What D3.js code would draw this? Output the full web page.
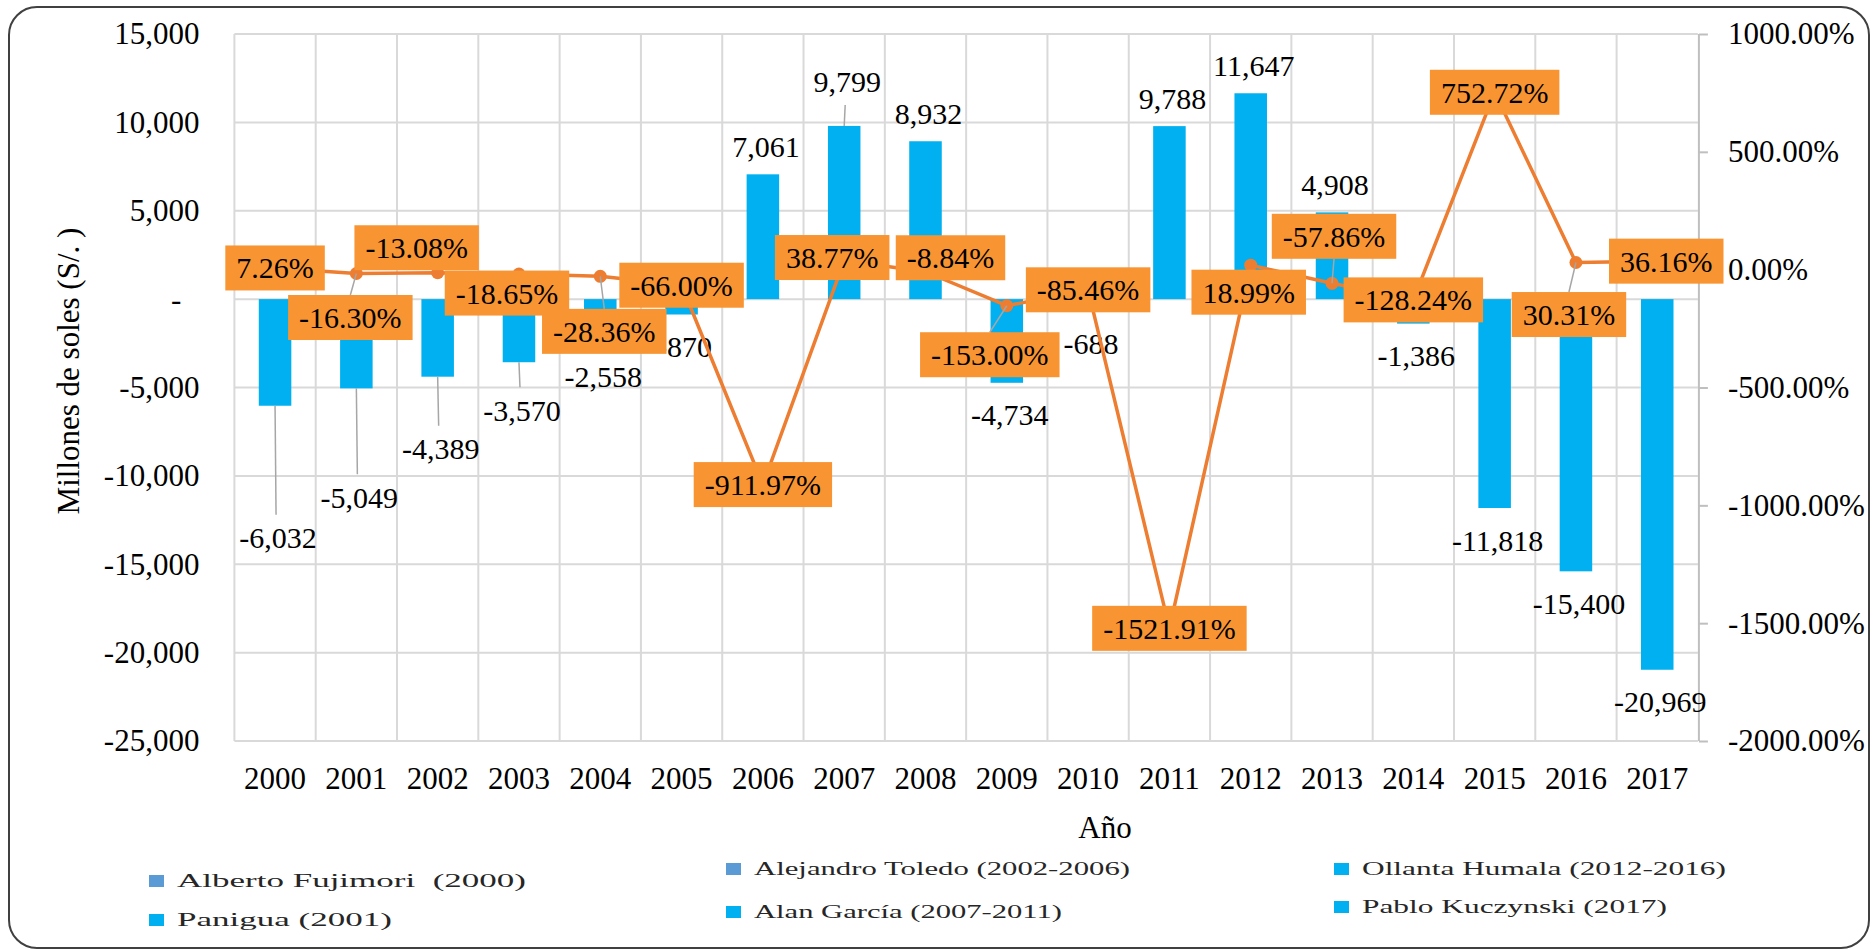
<!DOCTYPE html>
<html>
<head>
<meta charset="utf-8">
<script src="https://cdn.jsdelivr.net/npm/d3@7"></script>
<style>
  html, body { margin: 0; padding: 0; background: #fff; }
  svg { display: block; font-family: "Liberation Serif", "Times New Roman", serif; }
  .legend text { white-space: pre; }
</style>
</head>
<body>
<svg id="chart" width="1874" height="949"></svg>
<script>
// Balance (millones de soles) per year and its year-on-year change (%)
const years = ["2000","2001","2002","2003","2004","2005","2006","2007","2008",
               "2009","2010","2011","2012","2013","2014","2015","2016","2017"];
const balance = [-6032, -5049, -4389, -3570, -2558, -870, 7061, 9799, 8932,
                 -4734, -688, 9788, 11647, 4908, -1386, -11818, -15400, -20969];
const change = [7.26, -16.30, -13.08, -18.65, -28.36, -66.00, -911.97, 38.77, -8.84,
                -153.00, -85.46, -1521.91, 18.99, -57.86, -128.24, 752.72, 30.31, 36.16];
const leftTicks = [15000, 10000, 5000, 0, -5000, -10000, -15000, -20000, -25000];
const rightTicks = [1000, 500, 0, -500, -1000, -1500, -2000];
const legendNames = ["Alberto Fujimori  (2000)", "Panigua (2001)",
                     "Alejandro Toledo (2002-2006)", "Alan García (2007-2011)",
                     "Ollanta Humala (2012-2016)", "Pablo Kuczynski (2017)"];
const legendColors = ["#5B9BD5", "#00B0F0", "#5B9BD5", "#00B0F0", "#00B0F0", "#00B0F0"];

// Manual label placement nudges (pixels) so labels don't collide
const barLabelNudge = [100, 77, 40, 16, 0, 0, 0, -16, 0, 0, 0, 0, 0, 0, 0, 0, 0, 0];
const changeLabelNudge = [[0,0],[-6,44],[-21,-25],[-12,19],[4,55],[0,0],[0,0],[-12,-3],[25,-14],
                          [-17,49],[0,0],[0,0],[-2,27],[2,-47],[0,0],[0,0],[-7,52],[9,0]];

const loc = d3.formatLocale({decimal: ".", thousands: ",", grouping: [3], currency: ["", ""], minus: "-"});
const fmtInt = loc.format(",");
const fmtPct = v => loc.format(".2f")(v) + "%";

const svg = d3.select("#chart");
const plot = {left: 234.4, right: 1697.9, top: 34, bottom: 741};

const BAR = "#00B0F0", LINE = "#ED7D31", BOX = "#F89532", GRID = "#D9D9D9";

// Outer rounded frame
svg.append("rect").attr("x", 9).attr("y", 7).attr("width", 1860).attr("height", 941)
  .attr("rx", 28).attr("ry", 28).attr("fill", "#fff").attr("stroke", "#404040").attr("stroke-width", 2);

const x = d3.scaleBand().domain(years).range([plot.left, plot.right]).padding(0);
const y = d3.scaleLinear().domain([-25000, 15000]).range([plot.bottom, plot.top]);
const y2 = d3.scaleLinear().domain([-2000, 1000]).range([plot.bottom, plot.top]);
const cx = d => x(d) + x.bandwidth() / 2;

// Gridlines
const grid = svg.append("g");
grid.selectAll("line.h").data(leftTicks).join("line")
  .attr("x1", plot.left).attr("x2", plot.right)
  .attr("y1", d => y(d)).attr("y2", d => y(d))
  .attr("stroke", GRID).attr("stroke-width", 2);
grid.selectAll("line.v").data(years).join("line")
  .attr("x1", d => x(d)).attr("x2", d => x(d))
  .attr("y1", plot.top).attr("y2", plot.bottom)
  .attr("stroke", GRID).attr("stroke-width", 2);

// Left axis
const leftAxis = d3.axisLeft(y).tickValues(leftTicks).tickSize(0).tickPadding(35)
  .tickFormat(d => d === 0 ? "-" : fmtInt(d));
const gL = svg.append("g").attr("transform", `translate(${plot.left},0)`).call(leftAxis);
gL.select(".domain").remove();
gL.selectAll("text").attr("font-size", 31).attr("fill", "#000")
  .attr("font-family", "Liberation Serif")
  .attr("dx", d => d === 0 ? -18 : 0);

// Right axis
const rightAxis = d3.axisRight(y2).tickValues(rightTicks).tickSize(9).tickPadding(20)
  .tickFormat(fmtPct);
const gR = svg.append("g").attr("transform", `translate(${plot.right + 1},0)`).call(rightAxis);
gR.select(".domain").attr("stroke", "#BFBFBF").attr("stroke-width", 2)
  .attr("d", `M0,${plot.top}V${plot.bottom}`);
gR.selectAll(".tick line").attr("stroke", "#BFBFBF").attr("stroke-width", 2);
gR.selectAll("text").attr("font-size", 31).attr("fill", "#000").attr("font-family", "Liberation Serif");

// Bottom axis (years)
const bottomAxis = d3.axisBottom(x).tickSize(0).tickPadding(26);
const gB = svg.append("g").attr("transform", `translate(0,${plot.bottom})`).call(bottomAxis);
gB.select(".domain").remove();
gB.selectAll("text").attr("font-size", 31).attr("fill", "#000").attr("font-family", "Liberation Serif");

// Axis titles
svg.append("text").attr("transform", "translate(79,371) rotate(-90)")
  .attr("text-anchor", "middle").attr("font-size", 31).text("Millones de soles (S/. )");
svg.append("text").attr("x", 1105).attr("y", 838).attr("text-anchor", "middle")
  .attr("font-size", 31).text("Año");

// Bars
const bw = x.bandwidth() * 0.4;
const rows = years.map((yr, i) => ({yr, v: balance[i], p: change[i], i}));
svg.append("g").selectAll("rect").data(rows).join("rect")
  .attr("x", d => cx(d.yr) - bw / 2)
  .attr("y", d => Math.min(y(d.v), y(0)))
  .attr("width", bw)
  .attr("height", d => Math.abs(y(d.v) - y(0)))
  .attr("fill", BAR);

// Bar value labels (with leader lines where pushed away)
const barLab = svg.append("g");
rows.forEach(d => {
  const end = y(d.v);
  const dir = d.v < 0 ? 1 : -1;
  const base = d.v < 0 ? 32 : 28;
  const ly = end + dir * (base + Math.abs(barLabelNudge[d.i]));
  const lx = cx(d.yr) + 3;
  const edge = ly - dir * 23;
  if (Math.abs(edge - end) > 12) {
    barLab.append("line").attr("x1", cx(d.yr)).attr("x2", cx(d.yr) + 1)
      .attr("y1", end).attr("y2", edge)
      .attr("stroke", "#A6A6A6").attr("stroke-width", 1.5);
  }
  barLab.append("text").attr("x", lx).attr("y", ly).attr("dy", "0.35em")
    .attr("text-anchor", "middle").attr("font-size", 30).attr("fill", "#000")
    .text(fmtInt(d.v));
});

// Change line with markers
const line = d3.line().x(d => cx(d.yr)).y(d => y2(d.p));
svg.append("path").datum(rows).attr("d", line)
  .attr("fill", "none").attr("stroke", LINE).attr("stroke-width", 3.5)
  .attr("stroke-linejoin", "round");
svg.append("g").selectAll("circle").data(rows).join("circle")
  .attr("cx", d => cx(d.yr)).attr("cy", d => y2(d.p)).attr("r", 6.5).attr("fill", LINE);

// Change labels in orange boxes
const pctLab = svg.append("g");
const boxH = 45;
rows.forEach(d => {
  const px = cx(d.yr), py = y2(d.p);
  const [nx, ny] = changeLabelNudge[d.i];
  const bx = px + nx, by = py + ny;
  const g = pctLab.append("g");
  const leader = g.append("line");
  const rect = g.append("rect");
  const t = g.append("text").attr("x", bx).attr("y", by).attr("dy", "0.35em")
    .attr("text-anchor", "middle").attr("font-size", 30).attr("fill", "#000")
    .text(fmtPct(d.p));
  const tw = t.node().getComputedTextLength();
  const bW = tw + 22;
  rect.attr("x", bx - bW / 2).attr("y", by - boxH / 2).attr("width", bW).attr("height", boxH)
    .attr("fill", BOX);
  // leader line from the point to the nearest box edge
  const top = by - boxH / 2, bot = by + boxH / 2;
  let ey = null;
  if (py < top - 6) ey = top; else if (py > bot + 6) ey = bot;
  if (ey !== null) {
    leader.attr("x1", px).attr("y1", py).attr("x2", bx).attr("y2", ey)
      .attr("stroke", "#A6A6A6").attr("stroke-width", 1.5);
  } else {
    leader.remove();
  }
});

// Legend (horizontally stretched entries)
const legendPos = [[149, 887], [149, 926], [726, 875], [726, 918], [1334, 875], [1334, 913]];
const legendTextLen = [349, 215, 376, 308, 364, 305];
const lg = svg.append("g").attr("class", "legend");
legendNames.forEach((name, i) => {
  const [lx, ly] = legendPos[i];
  lg.append("rect").attr("x", lx).attr("y", ly - 12).attr("width", 15).attr("height", 12)
    .attr("fill", legendColors[i]);
  lg.append("text").attr("x", lx + 28).attr("y", ly)
    .attr("textLength", legendTextLen[i]).attr("lengthAdjust", "spacingAndGlyphs")
    .attr("font-size", 18).attr("fill", "#262626").text(name);
});
</script>
</body>
</html>
